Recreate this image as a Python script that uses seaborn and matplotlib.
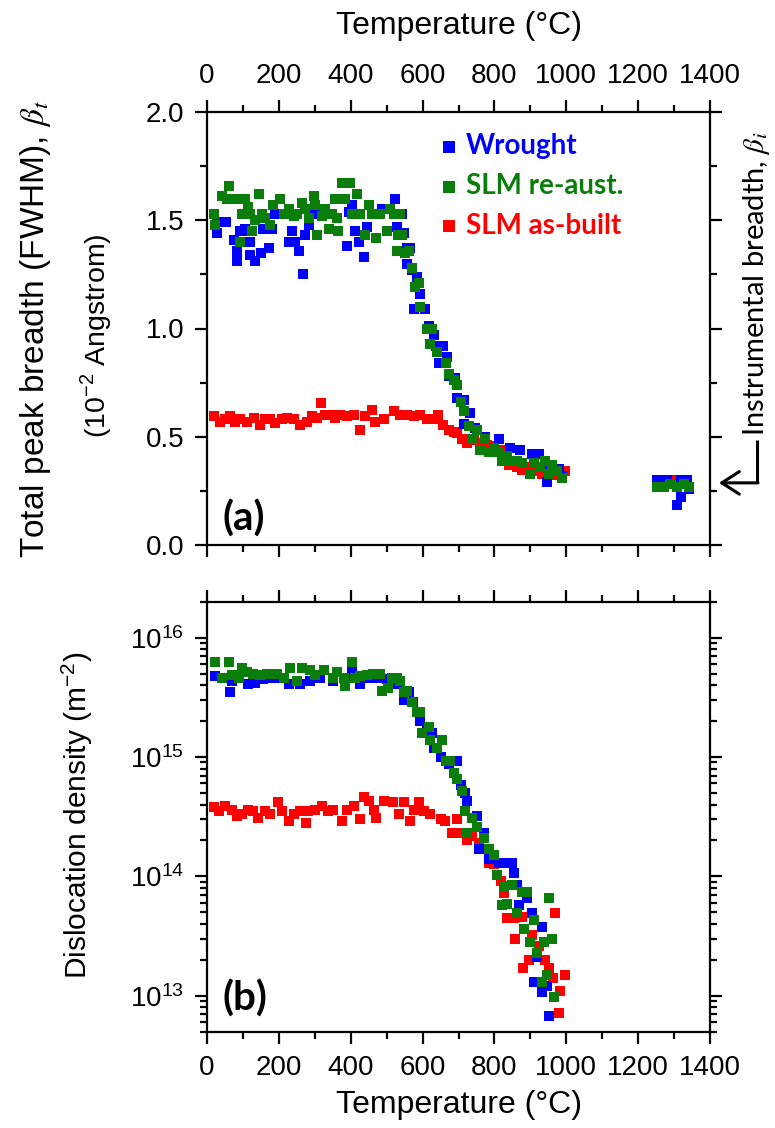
import matplotlib
matplotlib.use("Agg")
import matplotlib.pyplot as plt
import seaborn as sns
from matplotlib.ticker import MultipleLocator, LogLocator, NullFormatter, FormatStrFormatter
from matplotlib.font_manager import FontProperties

# ---------------- data: panel (a) total peak breadth (10^-2 Angstrom) ----------------
wr_T_a = [27, 27, 54, 75, 84, 84, 93, 97, 106, 119, 121, 134, 150, 157, 172, 181, 190, 208, 227, 236,
          246, 255, 267, 273, 283, 301, 329, 390, 394, 404, 411, 423, 437, 446, 464, 487, 524, 529, 543, 548,
          557, 566, 557, 571, 585, 594, 576, 608, 617, 631, 636, 657, 645, 668, 673, 691, 696, 715, 733, 715,
          747, 775, 812, 844, 872, 904, 923, 946, 956, 979, 988, 1253, 1281, 1309, 1318, 1337, 1341, 1318]
wr_B_a = [1.44, 1.49, 1.49, 1.41, 1.36, 1.31, 1.45, 1.45, 1.46, 1.40, 1.34, 1.31, 1.35, 1.46, 1.37, 1.46, 1.53, 1.53, 1.40, 1.45,
          1.40, 1.36, 1.25, 1.43, 1.48, 1.53, 1.53, 1.38, 1.54, 1.57, 1.45, 1.40, 1.33, 1.47, 1.53, 1.55, 1.60, 1.47, 1.53, 1.44,
          1.37, 1.37, 1.30, 1.27, 1.24, 1.16, 1.09, 1.09, 1.01, 0.97, 0.92, 0.92, 0.84, 0.87, 0.78, 0.77, 0.68, 0.67, 0.61, 0.56,
          0.54, 0.50, 0.49, 0.45, 0.44, 0.42, 0.42, 0.29, 0.36, 0.35, 0.32, 0.30, 0.30, 0.185, 0.22, 0.30, 0.26, 0.30]

re_T_a = [19, 23, 42, 60, 55, 69, 84, 97, 91, 106, 115, 120, 125, 134, 144, 153, 162, 176, 185, 204,
          213, 227, 241, 250, 264, 273, 283, 297, 301, 306, 320, 329, 339, 348, 357, 362, 366, 375, 385, 399,
          404, 418, 427, 441, 450, 459, 469, 482, 501, 510, 520, 533, 538, 543, 529, 552, 561, 571, 580, 589,
          594, 613, 627, 622, 641, 664, 673, 687, 696, 706, 715, 729, 738, 752, 761, 775, 784, 798, 812, 821,
          835, 849, 863, 877, 900, 909, 928, 942, 951, 960, 974, 988, 1253, 1272, 1290, 1309, 1327, 1341]
re_B_a = [1.53, 1.48, 1.61, 1.66, 1.60, 1.60, 1.60, 1.53, 1.40, 1.60, 1.56, 1.53, 1.45, 1.50, 1.62, 1.53, 1.51, 1.48, 1.57, 1.60,
          1.53, 1.55, 1.52, 1.53, 1.58, 1.55, 1.51, 1.61, 1.57, 1.43, 1.52, 1.55, 1.46, 1.53, 1.60, 1.51, 1.45, 1.67, 1.60, 1.67,
          1.53, 1.62, 1.53, 1.43, 1.57, 1.53, 1.42, 1.53, 1.45, 1.55, 1.53, 1.43, 1.53, 1.43, 1.36, 1.35, 1.36, 1.28, 1.19, 1.21,
          1.10, 1.00, 1.00, 0.93, 0.89, 0.84, 0.79, 0.76, 0.74, 0.66, 0.62, 0.55, 0.49, 0.53, 0.44, 0.49, 0.43, 0.45, 0.43, 0.39,
          0.41, 0.39, 0.39, 0.38, 0.33, 0.38, 0.36, 0.39, 0.33, 0.37, 0.34, 0.31, 0.27, 0.27, 0.28, 0.27, 0.28, 0.27]

ab_T_a = [19, 37, 51, 65, 79, 93, 111, 130, 148, 162, 176, 190, 208, 222, 241, 259, 278, 292, 306, 317,
          329, 343, 357, 371, 389, 408, 427, 440, 459, 468, 492, 520, 538, 557, 575, 594, 612, 631, 644, 658,
          673, 687, 697, 710, 724, 743, 761, 780, 798, 817, 840, 849, 863, 877, 895, 914, 932, 951, 970, 997,
          1253, 1272, 1299, 1318]
ab_B_a = [0.594, 0.57, 0.58, 0.594, 0.57, 0.58, 0.57, 0.586, 0.555, 0.58, 0.58, 0.563, 0.58, 0.586, 0.58, 0.555, 0.57, 0.594, 0.586, 0.655,
          0.60, 0.60, 0.586, 0.60, 0.594, 0.60, 0.53, 0.594, 0.625, 0.57, 0.58, 0.617, 0.60, 0.60, 0.594, 0.60, 0.58, 0.58, 0.60, 0.555,
          0.532, 0.524, 0.517, 0.49, 0.47, 0.486, 0.47, 0.463, 0.455, 0.44, 0.37, 0.378, 0.362, 0.347, 0.362, 0.34, 0.33, 0.34, 0.324, 0.34,
          0.30, 0.293, 0.30, 0.293]

instrumental_breadth = 0.287

# ---------------- data: panel (b) dislocation density (m^-2) ----------------
wr_T_b = [23, 65, 69, 84, 115, 134, 157, 176, 204, 227, 259, 287, 315, 352, 390, 404, 427, 455, 473, 501,
          529, 547, 561, 574, 594, 613, 627, 631, 650, 673, 696, 706, 719, 724, 752, 757, 770, 784, 812, 830,
          849, 854, 863, 868, 891, 905, 919, 933, 910, 933, 946, 951]
wr_R_b = [4.8e15, 3.5e15, 4.3e15, 4.9e15, 4.1e15, 4.2e15, 4.5e15, 4.6e15, 4.6e15, 4.1e15, 4.1e15, 4.3e15, 4.6e15, 4.3e15, 4.6e15, 5.6e15, 4.1e15, 4.6e15, 4.6e15, 4.5e15,
          4.1e15, 3.0e15, 3.5e15, 2.9e15, 2.0e15, 1.7e15, 1.6e15, 1.2e15, 1.0e15, 8.7e14, 9.3e14, 5.8e14, 5.0e14, 4.3e14, 3.2e14, 1.7e14, 2.3e14, 1.4e14, 1.3e14, 1.3e14,
          1.3e14, 1.07e14, 8.5e13, 5.8e13, 6.6e13, 4.9e13, 2.1e13, 3.8e13, 1.3e13, 1.07e13, 1.2e13, 6.8e12]

re_T_b = [23, 41, 60, 69, 88, 97, 111, 129, 148, 166, 194, 213, 232, 250, 264, 287, 301, 325, 352, 361,
          380, 384, 404, 412, 426, 445, 463, 482, 487, 505, 514, 528, 537, 547, 556, 570, 584, 593, 599, 617,
          622, 640, 654, 664, 677, 687, 696, 710, 719, 724, 738, 752, 770, 784, 798, 807, 826, 849, 835, 821,
          863, 877, 891, 882, 900, 910, 919, 937, 946, 933, 951, 960, 965]
re_R_b = [6.3e15, 4.6e15, 6.2e15, 4.9e15, 4.6e15, 5.6e15, 5.2e15, 5.0e15, 4.9e15, 5.0e15, 5.0e15, 4.6e15, 5.6e15, 4.3e15, 5.6e15, 5.4e15, 4.9e15, 5.4e15, 4.6e15, 5.2e15,
          4.6e15, 3.9e15, 6.3e15, 4.6e15, 4.8e15, 4.9e15, 5.0e15, 5.0e15, 3.6e15, 3.8e15, 4.6e15, 4.6e15, 4.3e15, 3.5e15, 3.6e15, 2.9e15, 2.4e15, 2.4e15, 1.6e15, 1.8e15,
          1.4e15, 1.2e15, 1.4e15, 9.3e14, 9.3e14, 7.4e14, 6.6e14, 5.2e14, 3.5e14, 2.3e14, 3.1e14, 2.6e14, 2.1e14, 1.7e14, 1.5e14, 1.02e14, 8.3e13, 8.5e13, 5.9e13, 5.8e13,
          4.9e13, 7.4e13, 7.4e13, 3.6e13, 2.8e13, 4.3e13, 2.3e13, 2.8e13, 1.5e13, 1.3e13, 6.6e13, 3.0e13, 9.8e12]

ab_T_b = [19, 33, 51, 69, 84, 97, 115, 129, 143, 162, 176, 199, 208, 227, 241, 259, 276, 282, 301, 320,
          338, 352, 375, 389, 408, 427, 437, 450, 464, 469, 492, 519, 534, 547, 566, 575, 589, 603, 621, 650,
          663, 681, 696, 705, 724, 738, 757, 770, 784, 798, 817, 826, 835, 854, 858, 876, 879, 895, 904, 923,
          941, 951, 964, 969, 983, 979, 997]
ab_R_b = [3.8e14, 3.5e14, 3.9e14, 3.6e14, 3.2e14, 3.3e14, 3.6e14, 3.5e14, 3.1e14, 3.5e14, 3.3e14, 4.2e14, 3.5e14, 2.9e14, 3.3e14, 3.5e14, 2.8e14, 3.5e14, 3.6e14, 3.9e14,
          3.5e14, 3.6e14, 2.9e14, 3.6e14, 3.9e14, 3.0e14, 4.6e14, 4.3e14, 3.6e14, 3.1e14, 4.3e14, 4.2e14, 3.3e14, 4.2e14, 2.9e14, 3.6e14, 4.2e14, 3.5e14, 3.3e14, 3.0e14,
          2.9e14, 2.3e14, 3.0e14, 2.3e14, 2.0e14, 2.2e14, 1.9e14, 1.7e14, 1.3e14, 1.26e14, 9.1e13, 7.2e13, 4.5e13, 4.5e13, 3.0e13, 4.6e13, 1.7e13, 2.0e13, 3.2e13, 2.6e13,
          2.0e13, 1.7e13, 1.4e13, 4.9e13, 1.1e13, 7.2e12, 1.5e13]

series_names = ["Wrought", "SLM re-aust.", "SLM as-built"]
series_colors = ["#0000ff", "#0a7d0a", "#ff0000"]

x_ticks = [0, 200, 400, 600, 800, 1000, 1200, 1400]

# ---------------- style ----------------
sns.set_style("ticks")
plt.rcParams["font.family"] = ["Liberation Sans", "DejaVu Sans"]
plt.rcParams["axes.linewidth"] = 1.6
for k in ["text.color", "axes.labelcolor", "xtick.color", "ytick.color", "axes.edgecolor"]:
    plt.rcParams[k] = "black"

fig = plt.figure(figsize=(7.75, 11.28), dpi=100)
W, H = 775.0, 1128.0
ax1 = fig.add_axes([207 / W, (H - 545) / H, 503 / W, 433 / H])
ax2 = fig.add_axes([207 / W, (H - 1031.7) / H, 503 / W, 430 / H])

S = 50
order = [2, 0, 1]  # draw as-built first, then wrought, then re-aust.
data_a = [(wr_T_a, wr_B_a), (re_T_a, re_B_a), (ab_T_a, ab_B_a)]
data_b = [(wr_T_b, wr_R_b), (re_T_b, re_R_b), (ab_T_b, ab_R_b)]
for i in order:
    sns.scatterplot(x=data_a[i][0], y=data_a[i][1], ax=ax1, marker="s", s=S, color=series_colors[i],
                    linewidth=0, label=series_names[i], zorder=3, clip_on=False)
    sns.scatterplot(x=data_b[i][0], y=data_b[i][1], ax=ax2, marker="s", s=S, color=series_colors[i],
                    linewidth=0, zorder=3)

tick_font = 20
for ax in (ax1, ax2):
    ax.set_xlim(0, 1400)
    ax.set_xticks(x_ticks)
    ax.xaxis.set_minor_locator(MultipleLocator(100))
    ax.tick_params(which="both", direction="out", top=True, right=True, width=1.6, labelsize=tick_font, pad=8)
    ax.tick_params(which="major", length=8.5)
    ax.tick_params(which="minor", length=5)
    ax.set_xlabel("")
    ax.set_ylabel("")

# panel a
ax1.set_ylim(0, 2.0)
ax1.yaxis.set_major_locator(MultipleLocator(0.5))
ax1.yaxis.set_minor_locator(MultipleLocator(0.25))
ax1.yaxis.set_major_formatter(FormatStrFormatter("%.1f"))
ax1.tick_params(axis="x", labeltop=True, labelbottom=False)

# panel b
ax2.set_yscale("log")
ax2.set_ylim(5e12, 2e16)
ax2.yaxis.set_major_locator(LogLocator(base=10, numticks=10))
ax2.yaxis.set_minor_locator(LogLocator(base=10, subs=[2, 3, 4, 5, 6, 7, 8, 9], numticks=100))
ax2.yaxis.set_minor_formatter(NullFormatter())
ax2.tick_params(axis="x", labeltop=False, labelbottom=True)

# axis labels
lab_fs = 23
ax1.xaxis.set_label_position("top")
ax1.set_xlabel("Temperature (°C)", fontsize=lab_fs)
ax1.xaxis.set_label_coords(0.5, (545 - 34) / 433)
ax2.set_xlabel("Temperature (°C)", fontsize=lab_fs)
ax2.xaxis.set_label_coords(0.5, (1031.7 - 1090) / 430)

fig.text(36 / W, 1 - 329 / H, r"Total peak breadth (FWHM), $\beta_t$", rotation=90, ha="center", va="center",
         fontsize=24, math_fontfamily="stix")
fig.text(96 / W, 1 - 336 / H, r"(10$^{\mathregular{-2}}$ Angstrom)", rotation=90, ha="center", va="center",
         fontsize=20.5)
fig.text(77 / W, 1 - 815 / H, r"Dislocation density (m$^{\mathregular{-2}}$)", rotation=90, ha="center", va="center",
         fontsize=21.5)

# legend
handles, labels = ax1.get_legend_handles_labels()
hmap = dict(zip(labels, handles))
leg = ax1.legend([hmap[n] for n in series_names], series_names, loc="upper left",
                 bbox_to_anchor=((441 - 207) / 503, (545 - 133) / 433), frameon=False,
                 prop=FontProperties(family="Lato", weight="bold", size=20), markerscale=1.22,
                 handlelength=0.6, handletextpad=0.3, labelspacing=0.5, borderpad=0, borderaxespad=0)
for txt, c in zip(leg.get_texts(), series_colors):
    txt.set_color(c)

# panel letters
ax1.text(0.03, (545 - 531) / 433, "(a)", transform=ax1.transAxes, fontsize=29, fontweight="bold",
         family="Lato", va="baseline", ha="left")
ax2.text(0.03, (1031.7 - 1011) / 430, "(b)", transform=ax2.transAxes, fontsize=29, fontweight="bold",
         family="Lato", va="baseline", ha="left")

# instrumental breadth annotation
fig.text(756 / W, 1 - 436 / H, r"Instrumental breadth, $\beta_i$", rotation=90, ha="center", va="bottom",
         fontsize=21, family="Lato", math_fontfamily="stix")
ytr = ax1.get_yaxis_transform()
x_corner = (757 - 207) / 503
x_tip = (719 - 207) / 503
ax1.plot([x_corner, x_corner], [(545 - 440) / 216.5, instrumental_breadth], color="black", lw=2.2,
         transform=ytr, clip_on=False, solid_capstyle="butt")
ax1.annotate("", xy=(x_tip, instrumental_breadth), xycoords=ytr,
             xytext=(x_corner + 0.002, instrumental_breadth), textcoords=ytr,
             arrowprops=dict(arrowstyle="->,head_length=0.7,head_width=0.45", lw=2.2, color="black",
                             mutation_scale=18, shrinkA=0, shrinkB=0), annotation_clip=False)

fig.savefig("out.png", dpi=100)
